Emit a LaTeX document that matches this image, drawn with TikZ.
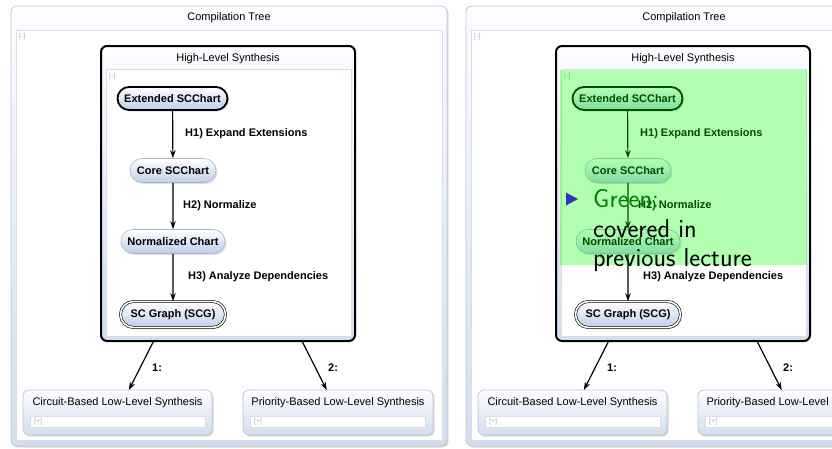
\documentclass[tikz,border=0pt]{standalone}
\usepackage{fontspec}
\setmainfont{Liberation Sans}
\usetikzlibrary{arrows.meta,shadows,shapes.misc}

\definecolor{paneltop}{RGB}{252,253,255}
\definecolor{panelbot}{RGB}{210,222,239}
\definecolor{panelline}{RGB}{188,198,214}
\definecolor{innerline}{RGB}{214,222,234}
\definecolor{statebot}{RGB}{188,206,235}
\definecolor{stateline}{RGB}{170,182,200}
\definecolor{hintgray}{RGB}{175,180,190}
\definecolor{beamerblue}{RGB}{51,51,179}
\definecolor{coveredgreen}{RGB}{0,128,0}

\tikzset{
  panelbox/.style={draw=panelline, line width=0.8pt, rounded corners=6pt,
    top color=paneltop, bottom color=panelbot, inner sep=0pt, outer sep=0pt,
    drop shadow={shadow xshift=1.5pt, shadow yshift=-1.5pt, opacity=0.3}},
  hlsbox/.style={draw=black, line width=2pt, rounded corners=6pt,
    top color=paneltop, bottom color=panelbot, inner sep=0pt, outer sep=0pt},
  contentarea/.style={draw=innerline, line width=0.8pt, fill=white, inner sep=0pt},
  boxtitle/.style={font=\fontsize{11}{13}\selectfont, inner sep=0pt},
  hint/.style={font=\fontsize{7}{8}\selectfont, text=hintgray, inner sep=0pt, anchor=west},
  state/.style={rounded rectangle, top color=white, bottom color=statebot,
    draw=stateline, line width=0.6pt, font=\fontsize{11}{13}\selectfont\bfseries,
    minimum height=24pt, inner xsep=4pt, inner ysep=0pt,
    drop shadow={shadow xshift=1.5pt, shadow yshift=-1.5pt, opacity=0.25}},
  initialstate/.style={state, draw=black, line width=1.8pt, minimum height=23pt},
  finalstate/.style={state, draw=black, line width=0.6pt, double, double distance=1.6pt,
    minimum height=26pt},
  flow/.style={-{Stealth[length=8pt,width=5.5pt]}, line width=1.2pt},
  flowlabel/.style={font=\fontsize{11}{13}\selectfont\bfseries, inner sep=0pt, anchor=west},
  covered/.style={fill=green, fill opacity=0.3, inner sep=0pt},
  remark/.style={font=\sffamily\fontsize{26}{30}\selectfont, inner sep=0pt, anchor=base west}
}

% one complete compilation tree, placed at the origin
\newcommand\compilationtree{%
  \node[panelbox, minimum width=436pt, minimum height=440pt] (tree) at (229,226) {};
  \node[boxtitle] (treetitle) at (229,18) {Compilation Tree};
  \node[contentarea, minimum width=426pt, minimum height=410pt] (treearea) at (229,235) {};
  \node[hint] (treehint) at (19,37) {[-]};
  % high-level synthesis
  \node[hlsbox, minimum width=254pt, minimum height=295pt] (hls) at (228,193.5) {};
  \node[boxtitle] (hlstitle) at (228,58.5) {High-Level Synthesis};
  \node[contentarea, minimum width=245pt, minimum height=267pt] (hlsarea) at (228.5,202.5) {};
  \node[hint] (hlshint) at (109,77) {[-]};
  \node[initialstate, minimum width=118pt] (ext) at (172.5,98.5) {Extended SCChart};
  \node[state, minimum width=94pt] (core) at (173,170.5) {Core SCChart};
  \node[state, minimum width=112pt] (norm) at (173,241.5) {Normalized Chart};
  \node[finalstate, minimum width=113pt] (scg) at (173,314.5) {SC Graph (SCG)};
  \draw[flow] (ext) -- (core);
  \draw[flow] (core) -- (norm);
  \draw[flow] (norm) -- (scg);
  \node[flowlabel] (h1) at (185,134) {H1) Expand Extensions};
  \node[flowlabel] (h2) at (183,206) {H2) Normalize};
  \node[flowlabel] (h3) at (188,277) {H3) Analyze Dependencies};
  % low-level synthesis variants
  \node[panelbox, minimum width=189pt, minimum height=45pt] (circuit) at (117.5,412.5) {};
  \node[boxtitle] (circuittitle) at (117.5,403) {Circuit-Based Low-Level Synthesis};
  \node[contentarea, minimum width=175pt, minimum height=11pt] (circuitarea) at (117.5,421.5) {};
  \node[hint] (circuithint) at (34,421.5) {[+]};
  \node[panelbox, minimum width=190pt, minimum height=45pt] (priority) at (338,412.5) {};
  \node[boxtitle] (prioritytitle) at (338,403) {Priority-Based Low-Level Synthesis};
  \node[contentarea, minimum width=175pt, minimum height=11pt] (priorityarea) at (338,421.5) {};
  \node[hint] (priorityhint) at (254,421.5) {[+]};
  \draw[flow] (hls) -- (circuit);
  \draw[flow] (hls) -- (priority);
  \node[flowlabel] (one) at (152,367.5) {1:};
  \node[flowlabel] (two) at (328,367.5) {2:};
}

\begin{document}
\begin{tikzpicture}[x=1pt, y=-1pt]
  \useasboundingbox (0,0) rectangle (832,448);
  \clip (0,0) rectangle (832,448);
  \fill[white] (0,0) rectangle (832,448);

  \begin{scope}[name prefix=L-]
    \compilationtree
  \end{scope}

  \begin{scope}[xshift=455pt, name prefix=R-]
    \compilationtree
    \node[covered, minimum width=247pt, minimum height=195pt] (coveredpart) at (228.5,167.5) {};
  \end{scope}

  % remark on the highlighted part
  \fill[beamerblue] (566,192.5) -- (578,199) -- (566,205.5) -- cycle;
  \node[remark, text=coveredgreen] (remark1) at (593,207) {Green:};
  \node[remark] (remark2) at (593,237) {covered in};
  \node[remark] (remark3) at (593,266) {previous lecture};
\end{tikzpicture}
\end{document}
